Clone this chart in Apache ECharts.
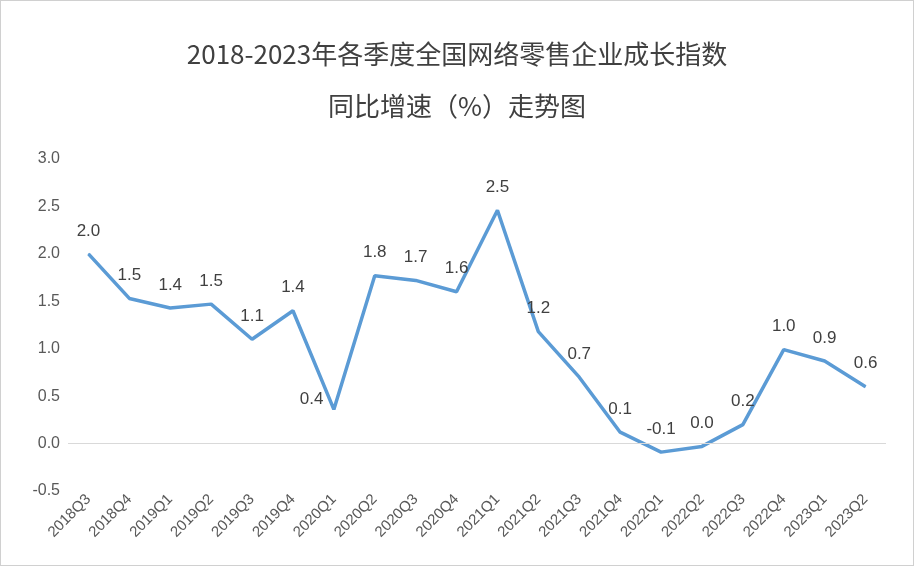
<!DOCTYPE html>
<html><head><meta charset="utf-8">
<script src="https://cdn.jsdelivr.net/npm/echarts@6/dist/echarts.min.js"></script>
<style>body{margin:0}#c{width:914px;height:566px;box-sizing:border-box;border:1px solid #d0d0d0}</style>
</head><body><div id="c"></div>
<script>
// 季度
const quarters = ['2018Q3','2018Q4','2019Q1','2019Q2','2019Q3','2019Q4','2020Q1','2020Q2','2020Q3','2020Q4',
  '2021Q1','2021Q2','2021Q3','2021Q4','2022Q1','2022Q2','2022Q3','2022Q4','2023Q1','2023Q2'];
// 同比增速（%）
const growth = [2.0,1.53,1.43,1.47,1.1,1.4,0.36,1.77,1.72,1.6,2.46,1.18,0.7,0.12,-0.09,-0.03,0.2,0.99,0.87,0.6];

const fmt = v => { const s = v.toFixed(1); return s === '-0.0' ? '0.0' : s; };

const chart = echarts.init(document.getElementById('c'));
chart.setOption({
  title: {
    text: '2018-2023年各季度全国网络零售企业成长指数\n同比增速（%）走势图',
    left: 'center', top: 22,
    textStyle: {fontSize: 26, fontWeight: 'normal', color: '#404040', lineHeight: 52,
      fontFamily: 'Noto Sans CJK SC'}
  },
  grid: {left: 67, right: 27, top: 158, bottom: 74},
  xAxis: {
    type: 'category', data: quarters,
    axisLine: {show: false}, axisTick: {show: false},
    axisLabel: {rotate: 45, color: '#595959', fontSize: 15, interval: 0, margin: 6}
  },
  yAxis: {
    type: 'value', min: -0.5, max: 3.0, interval: 0.5,
    splitLine: {show: false},
    axisLabel: {color: '#595959', fontSize: 16, formatter: v => v.toFixed(1)}
  },
  series: [{
    type: 'line', symbol: 'circle', symbolSize: 1, showSymbol: true,
    data: growth.map((v, i) => i === 6
      ? {value: v, label: {position: 'left', distance: 10, offset: [0, -10]}}
      : v),
    itemStyle: {color: '#5b9bd5'},
    lineStyle: {color: '#5b9bd5', width: 3.5},
    label: {show: true, position: 'top', distance: 14, color: '#404040', fontSize: 17,
      formatter: p => fmt(p.value)},
    markLine: {
      silent: true, symbol: 'none', label: {show: false},
      lineStyle: {color: '#d9d9d9', type: 'solid', width: 1},
      data: [{yAxis: 0}]
    }
  }]
});
</script></body></html>
